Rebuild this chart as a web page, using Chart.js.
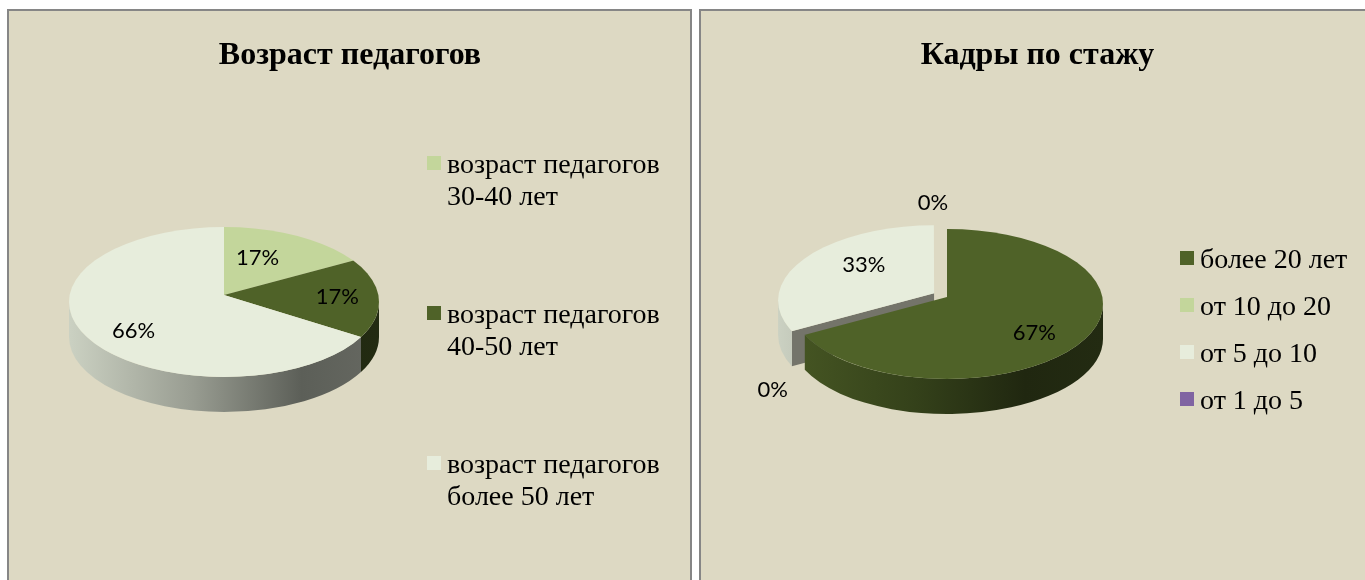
<!DOCTYPE html>
<html>
<head>
<meta charset="utf-8">
<title>Возраст педагогов / Кадры по стажу</title>
<script src="https://cdn.jsdelivr.net/npm/chart.js@4"></script>
<style>
html, body { margin: 0; height: 580px; background: #fff; overflow: hidden; }
.panel { position: absolute; top: 9px; height: 571px; background: #DDD9C3; border: 2px solid #868686; border-bottom: none; box-sizing: border-box; }
#panelAge { left: 7px; width: 685px; }
#panelExp { left: 699px; width: 680px; }
canvas { position: absolute; left: 0; top: 0; }
</style>
</head>
<body>
<div class="panel" id="panelAge"></div>
<div class="panel" id="panelExp"></div>
<canvas id="chartAge" width="1365" height="720"></canvas>
<canvas id="chartExp" width="1365" height="720"></canvas>
<script>
// Datos de los dos graficos
const ageTitle = 'Возраст педагогов';
const ageLabels = [
    ['возраст педагогов', '30-40 лет'],
    ['возраст педагогов', '40-50 лет'],
    ['возраст педагогов', 'более 50 лет']
];
const ageValues = [17, 17, 66];
const ageColors = ['#C3D69B', '#4F6228', '#E7EDDC'];

const expTitle = 'Кадры по стажу';
const expLabels = ['более 20 лет', 'от 10 до 20', 'от 5 до 10', 'от 1 до 5'];
const expValues = [67, 0, 33, 0];
const expColors = ['#4F6228', '#C3D69B', '#E7EDDC', '#8064A2'];

const TILT = 0.484;
const DEPTH = 35;
const RIM_Y = 75;       // semieje vertical de la elipse
const APEX_DROP = 7;    // por la perspectiva el vertice queda 7px encima del centro de la elipse
const LEGEND_FONT = 28;
const LEGEND_LINE = 32;
const SERIF = '"Liberation Serif", "Times New Roman", serif';

function shade(hex, f) {
    const n = parseInt(hex.slice(1), 16);
    return `rgb(${(n >> 16) * f}, ${((n >> 8) & 255) * f}, ${(n & 255) * f})`;
}

// Chart.js mueve la porcion offset/4
function arcShift(arc) {
    return (arc.options.offset || 0) / 4;
}

// angulo sobre la elipse donde llega el rayo que sale del vertice
function rimAngle(angle, rx) {
    const dirX = Math.cos(angle);
    const dirY = Math.sin(angle) * TILT;
    const A = (dirX / rx) ** 2 + (dirY / RIM_Y) ** 2;
    const B = -2 * APEX_DROP * dirY / (RIM_Y * RIM_Y);
    const C = (APEX_DROP / RIM_Y) ** 2 - 1;
    const t = (-B + Math.sqrt(B * B - 4 * A * C)) / (2 * A);
    return Math.atan2((dirY * t - APEX_DROP) / RIM_Y, dirX * t / rx);
}

function drawWalls(ctx, arc, rx, px, py) {
    const mid = (arc.startAngle + arc.endAngle) / 2;
    const cx = px + Math.cos(mid) * arcShift(arc);
    const apexY = py + Math.sin(mid) * arcShift(arc) * TILT;
    const cy = apexY + APEX_DROP;
    let e0 = rimAngle(arc.startAngle, rx);
    let e1 = rimAngle(arc.endAngle, rx);
    if (e1 <= e0) e1 += Math.PI * 2;

    // cara del corte, solo se ve en la porcion separada
    if (arc.options.offset > 0) {
        ctx.fillStyle = '#74746A';
        [e0, e1].forEach(e => {
            const ex = cx + Math.cos(e) * rx;
            const ey = cy + Math.sin(e) * RIM_Y;
            ctx.beginPath();
            ctx.moveTo(cx, apexY);
            ctx.lineTo(ex, ey);
            ctx.lineTo(ex, ey + DEPTH);
            ctx.lineTo(cx, apexY + DEPTH);
            ctx.closePath();
            ctx.fill();
        });
    }

    const from = Math.max(e0, 0);
    const to = Math.min(e1, Math.PI);
    if (to <= from) return;
    const color = arc.options.backgroundColor;
    const grad = ctx.createLinearGradient(cx - rx, 0, cx + rx, 0);
    grad.addColorStop(0, shade(color, 0.88));
    grad.addColorStop(0.4, shade(color, 0.66));
    grad.addColorStop(0.75, shade(color, 0.4));
    grad.addColorStop(1, shade(color, 0.44));
    ctx.fillStyle = grad;
    ctx.beginPath();
    ctx.ellipse(cx, cy, rx, RIM_Y, 0, from, to);
    ctx.ellipse(cx, cy + DEPTH, rx, RIM_Y, 0, to, from, true);
    ctx.closePath();
    ctx.fill();
}

// Pie "3D": cada arco se aplasta con el contexto y se recorta a su elipse
const pie3d = {
    id: 'pie3d',
    afterLayout(chart, args, opts) {
        const legend = chart.legend;
        const pad = legend.options.labels.padding;
        legend.left = opts.legendX - pad;
        legend.right = chart.width;
        legend.top = opts.legendY - pad;
        legend.bottom = chart.height;
        chart.titleBlock.left = opts.titleX - 300;
        chart.titleBlock.right = opts.titleX + 300;
    },
    beforeDatasetDraw(chart, args, opts) {
        const ctx = chart.ctx;
        const arcs = args.meta.data.filter(arc => arc.circumference > 0);
        arcs.sort((a, b) => b.options.offset - a.options.offset);
        arcs.forEach(arc => drawWalls(ctx, arc, opts.rx, opts.x, opts.y));
        arcs.forEach(arc => {
            const mid = (arc.startAngle + arc.endAngle) / 2;
            ctx.save();
            ctx.beginPath();
            ctx.ellipse(
                opts.x + Math.cos(mid) * arcShift(arc),
                opts.y + Math.sin(mid) * arcShift(arc) * TILT + APEX_DROP,
                opts.rx, RIM_Y, 0, 0, Math.PI * 2
            );
            ctx.clip();
            ctx.translate(opts.x, opts.y);
            ctx.scale(1, TILT);
            ctx.translate(-arc.x, -arc.y);
            arc.draw(ctx);
            ctx.restore();
        });
        return false;
    },
    afterDatasetsDraw(chart, args, opts) {
        const ctx = chart.ctx;
        const values = chart.data.datasets[0].data;
        ctx.save();
        ctx.font = '22px Lato, "Noto Sans", sans-serif';
        ctx.fillStyle = '#000';
        ctx.textAlign = 'center';
        ctx.textBaseline = 'middle';
        chart.getDatasetMeta(0).data.forEach((arc, i) => {
            const mid = (arc.startAngle + arc.endAngle) / 2;
            const r = values[i] === 0 ? opts.rx * 1.45 : opts.rx * 0.68 + arcShift(arc);
            const x = opts.x + Math.cos(mid) * r + opts.nudges[i][0];
            const y = opts.y + Math.sin(mid) * r * TILT + opts.nudges[i][1];
            ctx.fillText(values[i] + '%', x, y);
        });
        ctx.restore();
    },
    // los cuadritos de la leyenda van 3px mas arriba que el centro del texto
    afterDraw(chart, args, opts) {
        const ctx = chart.ctx;
        let y = opts.legendY + 4;
        chart.legend.legendItems.forEach(item => {
            ctx.fillStyle = item.swatch;
            ctx.fillRect(opts.legendX, y, 14, 14);
            const h = Array.isArray(item.text) ? item.text.length * LEGEND_LINE : LEGEND_FONT;
            y += h + opts.legendPad;
        });
    }
};

function makeChart(id, title, labels, values, colors, cfg) {
    return new Chart(document.getElementById(id), {
        type: 'pie',
        plugins: [pie3d],
        data: {
            labels: labels,
            datasets: [{
                data: values,
                backgroundColor: colors,
                borderWidth: 0,
                radius: cfg.rx * 1.2,
                offset: cfg.offsets,
                clip: false
            }]
        },
        options: {
            responsive: false,
            animation: false,
            events: [],
            plugins: {
                tooltip: { enabled: false },
                title: {
                    display: true,
                    text: title,
                    color: '#000',
                    font: { family: SERIF, size: 32, weight: 'bold', lineHeight: 1.2 },
                    padding: { top: 37, bottom: 10 }
                },
                legend: {
                    position: 'right',
                    align: 'start',
                    labels: {
                        color: '#000',
                        font: { family: SERIF, size: LEGEND_FONT, lineHeight: LEGEND_LINE / LEGEND_FONT },
                        boxWidth: 6,
                        boxHeight: 6,
                        padding: cfg.legendPad,
                        generateLabels: chart => chart.data.labels.map((text, i) => ({
                            text: text,
                            fillStyle: 'transparent',
                            lineWidth: 0,
                            swatch: colors[i],
                            index: i,
                            hidden: false
                        }))
                    }
                },
                pie3d: cfg
            }
        }
    });
}

makeChart('chartAge', ageTitle, ageLabels, ageValues, ageColors, {
    x: 224, y: 295, rx: 155,
    offsets: [0, 0, 0],
    nudges: [[-20, 7], [8, 0], [2, 11]],
    titleX: 350, legendX: 427, legendY: 152, legendPad: 86
});

makeChart('chartExp', expTitle, expLabels, expValues, expColors, {
    x: 947, y: 297, rx: 156,
    offsets: [0, 0, 60, 0],
    nudges: [[-4, 10], [24, 40], [21, -2], [-14, 15]],
    titleX: 1037.5, legendX: 1180, legendY: 247, legendPad: 19
});
</script>
</body>
</html>
